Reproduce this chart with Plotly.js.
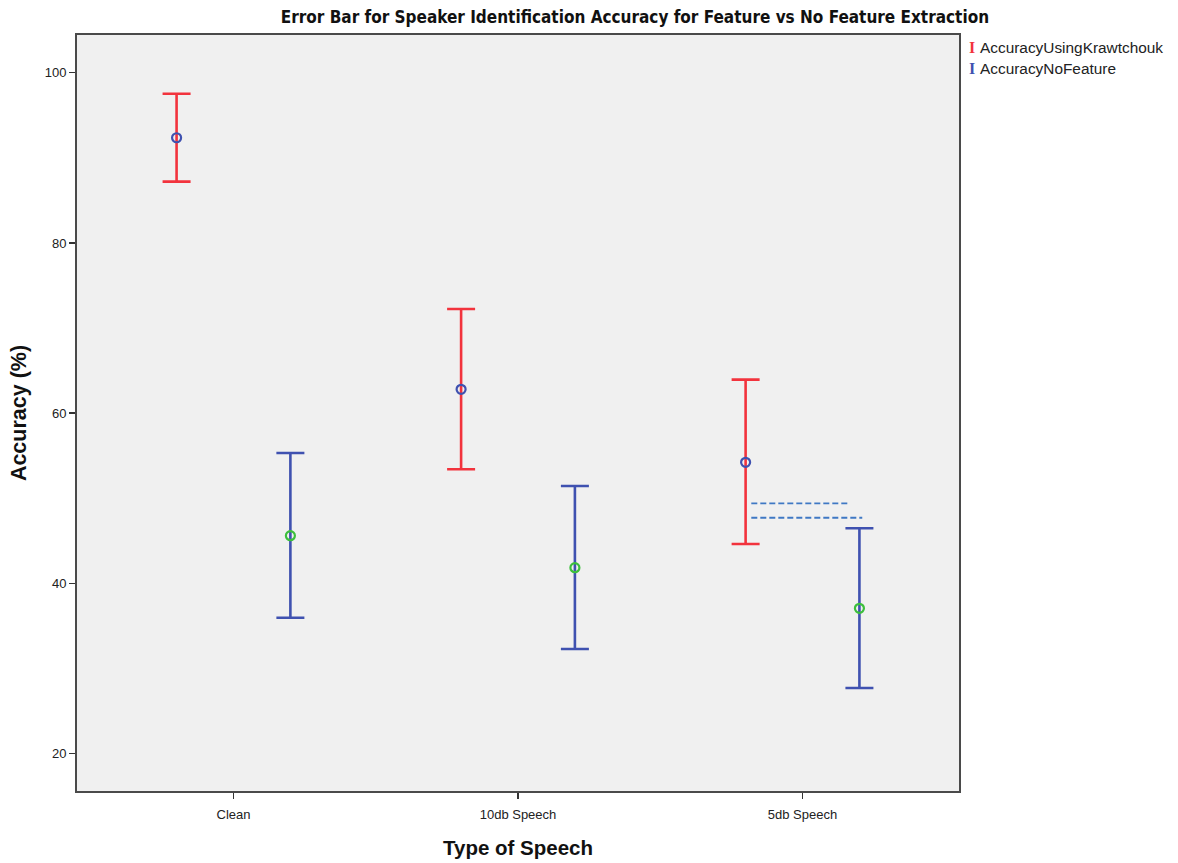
<!DOCTYPE html>
<html>
<head>
<meta charset="utf-8">
<script src="https://cdn.plot.ly/plotly-3.0.1.min.js"></script>
<style>html,body{margin:0;padding:0;background:#fff;}#chart{width:1178px;height:863px;}</style>
</head>
<body>
<div id="chart"></div>
<script>
var categories = ['Clean', '10db Speech', '5db Speech'];
var seriesNames = ['AccuracyUsingKrawtchouk', 'AccuracyNoFeature'];
var krawMean  = [92.36, 62.81, 54.23];
var krawUpper = [97.53, 72.24, 63.94];
var krawLower = [87.20, 53.41, 44.63];
var noFeatMean  = [45.61, 41.85, 37.08];
var noFeatUpper = [55.32, 51.45, 46.48];
var noFeatLower = [35.98, 32.30, 27.72];
var yTicks = [20, 40, 60, 80, 100];
// stray dashed reference lines in the original (category-space x, value y)
var dashY  = [49.41, 47.72];
var dashX0 = [1.82, 1.82];
var dashX1 = [2.163, 2.21];

var offset = 0.2;
var idx = categories.map(function(c, i){ return i; });
function diff(a, b){ return a.map(function(v, i){ return Math.abs(v - b[i]); }); }

var red = '#f2333d', blue = '#3f51b0', green = '#3cbf3c', dashCol = '#3f78c4';

var traces = [
  {
    x: idx.map(function(i){ return i - offset; }), y: krawMean, type: 'scatter', mode: 'markers',
    name: seriesNames[0], showlegend: false,
    marker: {symbol: 'circle-open', size: 9, color: blue, line: {width: 2.2, color: blue}},
    error_y: {type: 'data', symmetric: false, array: diff(krawUpper, krawMean), arrayminus: diff(krawMean, krawLower),
              color: red, thickness: 2.6, width: 14}
  },
  {
    x: idx.map(function(i){ return i + offset; }), y: noFeatMean, type: 'scatter', mode: 'markers',
    name: seriesNames[1], showlegend: false,
    marker: {symbol: 'circle-open', size: 9, color: green, line: {width: 2.2, color: green}},
    error_y: {type: 'data', symmetric: false, array: diff(noFeatUpper, noFeatMean), arrayminus: diff(noFeatMean, noFeatLower),
              color: blue, thickness: 2.6, width: 14}
  }
];
dashY.forEach(function(y, k){
  traces.push({x: [dashX0[k], dashX1[k]], y: [y, y], type: 'scatter', mode: 'lines', showlegend: false,
               hoverinfo: 'skip', line: {color: dashCol, width: 1.8, dash: '6px,3px'}});
});

var layout = {
  width: 1178, height: 863,
  margin: {l: 77, r: 219, t: 35, b: 72},
  paper_bgcolor: '#ffffff', plot_bgcolor: '#f0f0f0',
  font: {family: 'Liberation Sans, Arial, sans-serif', color: '#222'},
  title: {text: '<b>Error Bar for Speaker Identification Accuracy for Feature vs No Feature Extraction</b>',
          font: {family: 'DejaVu Sans Condensed, Liberation Sans Narrow, Liberation Sans, sans-serif', size: 17, color: '#111'},
          x: 0.539, xref: 'container', xanchor: 'center', y: 0.98, yref: 'container', yanchor: 'middle'},
  xaxis: {
    range: [-0.55, 2.55], tickvals: idx, ticktext: categories, showgrid: false, zeroline: false,
    showline: true, mirror: true, linecolor: '#4a4a4a', linewidth: 2,
    ticks: 'outside', ticklen: 6, tickwidth: 1.5, tickcolor: '#333', ticklabelstandoff: 4,
    tickfont: {size: 13, color: '#222'},
    title: {text: '<b>Type of Speech</b>', font: {size: 20.5, color: '#111'}, standoff: 20}
  },
  yaxis: {
    range: [15.62, 104.43], tickvals: yTicks, showgrid: false, zeroline: false,
    showline: true, mirror: true, linecolor: '#4a4a4a', linewidth: 2,
    ticks: 'outside', ticklen: 6, tickwidth: 1.5, tickcolor: '#333',
    tickfont: {size: 13, color: '#222'},
    title: {text: '<b>Accuracy (%)</b>', font: {size: 21.5, color: '#111'}, standoff: 12}
  },
  annotations: [
    {xref: 'paper', yref: 'paper', x: 1.009, y: 0.984, xanchor: 'left', yanchor: 'middle', showarrow: false,
     text: '<b>I</b>', font: {size: 16, color: red, family: 'Liberation Serif, serif'}},
    {xref: 'paper', yref: 'paper', x: 1.022, y: 0.984, xanchor: 'left', yanchor: 'middle', showarrow: false,
     text: seriesNames[0], font: {size: 15.4, color: '#222'}},
    {xref: 'paper', yref: 'paper', x: 1.009, y: 0.956, xanchor: 'left', yanchor: 'middle', showarrow: false,
     text: '<b>I</b>', font: {size: 16, color: blue, family: 'Liberation Serif, serif'}},
    {xref: 'paper', yref: 'paper', x: 1.022, y: 0.956, xanchor: 'left', yanchor: 'middle', showarrow: false,
     text: seriesNames[1], font: {size: 15.4, color: '#222'}}
  ]
};

Plotly.newPlot('chart', traces, layout, {displayModeBar: false, staticPlot: true});
</script>
</body>
</html>
